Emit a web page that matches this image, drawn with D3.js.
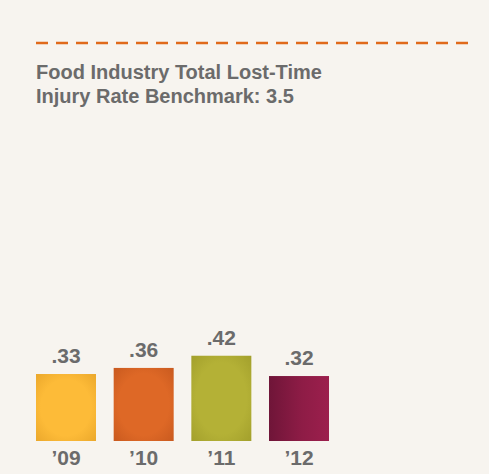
<!DOCTYPE html>
<html>
<head>
<meta charset="utf-8">
<script src="https://cdn.jsdelivr.net/npm/d3@7"></script>
<style>
  html, body { margin: 0; padding: 0; background: #f7f4ef; }
  svg text { font-family: Arial, "Liberation Sans", Helvetica, sans-serif; font-weight: 700; fill: #6b6b6b; }
</style>
</head>
<body>
<div id="chart"></div>
<script>
// Data
const years = ["\u201909", "\u201910", "\u201911", "\u201912"];
const rates = [0.33, 0.36, 0.42, 0.32];
const valueLabels = [".33", ".36", ".42", ".32"];
const titleLines = ["Food Industry Total Lost-Time", "Injury Rate Benchmark: 3.5"];
const barColors = [
    { inner: "#fdbb38", outer: "#eba82c" },
    { inner: "#de6826", outer: "#c95a1f" },
    { inner: "#b4b136", outer: "#a3a02c" },
    { inner: "#9c1f4d", outer: "#6f1538" }
];

const fullWidth = 489,
    fullHeight = 474,
    margin = { top: 0, right: 20, bottom: 33, left: 36 },
    plotTop = 238;

const svg = d3.select("#chart")
    .append("svg")
    .attr("width", fullWidth)
    .attr("height", fullHeight);

svg.append("rect")
    .attr("width", fullWidth)
    .attr("height", fullHeight)
    .attr("fill", "#f7f4ef");

// Dashed rule at top
svg.append("line")
    .attr("x1", 36)
    .attr("x2", 468)
    .attr("y1", 43)
    .attr("y2", 43)
    .attr("stroke", "#e06a1b")
    .attr("stroke-width", 2.5)
    .attr("stroke-dasharray", "12,8");

// Title
svg.append("text")
    .attr("x", 36)
    .attr("y", 79)
    .style("font-size", "20px")
    .selectAll("tspan")
    .data(titleLines)
    .join("tspan")
    .attr("x", 36)
    .attr("dy", (d, i) => i === 0 ? 0 : 23.5)
    .text(d => d);

// Scales
const x = d3.scaleBand()
    .domain(years)
    .range([36, 36 + 77.67 * 4 - 17.67])
    .paddingInner(0.2275)
    .paddingOuter(0);

const y = d3.scaleLinear()
    .domain([0, 1])
    .range([fullHeight - margin.bottom, plotTop]);

// Gradients
const defs = svg.append("defs");
barColors.forEach((c, i) => {
    let g;
    if (i === 3) {
        g = defs.append("linearGradient")
            .attr("id", "grad" + i)
            .attr("x1", "0%").attr("x2", "100%")
            .attr("y1", "0%").attr("y2", "0%");
        g.append("stop").attr("offset", "0%").attr("stop-color", c.outer);
        g.append("stop").attr("offset", "55%").attr("stop-color", "#8e1c46");
        g.append("stop").attr("offset", "100%").attr("stop-color", c.inner);
    } else {
        g = defs.append("radialGradient")
            .attr("id", "grad" + i)
            .attr("cx", "50%").attr("cy", "50%").attr("r", "70%");
        g.append("stop").attr("offset", "0%").attr("stop-color", c.inner);
        g.append("stop").attr("offset", "60%").attr("stop-color", c.inner);
        g.append("stop").attr("offset", "100%").attr("stop-color", c.outer);
    }
});

// Bars
svg.selectAll(".bar")
    .data(rates)
    .join("rect")
    .attr("class", "bar")
    .attr("x", (d, i) => x(years[i]))
    .attr("y", d => y(d))
    .attr("width", x.bandwidth())
    .attr("height", d => y(0) - y(d))
    .attr("fill", (d, i) => "url(#grad" + i + ")");

// Value labels
svg.selectAll(".value")
    .data(rates)
    .join("text")
    .attr("class", "value")
    .attr("x", (d, i) => x(years[i]) + x.bandwidth() / 2)
    .attr("y", d => y(d) - 11)
    .attr("text-anchor", "middle")
    .style("font-size", "21px")
    .text((d, i) => valueLabels[i]);

// Year labels
svg.selectAll(".year")
    .data(years)
    .join("text")
    .attr("class", "year")
    .attr("x", d => x(d) + x.bandwidth() / 2)
    .attr("y", 465)
    .attr("text-anchor", "middle")
    .style("font-size", "21px")
    .text(d => d);
</script>
</body>
</html>
